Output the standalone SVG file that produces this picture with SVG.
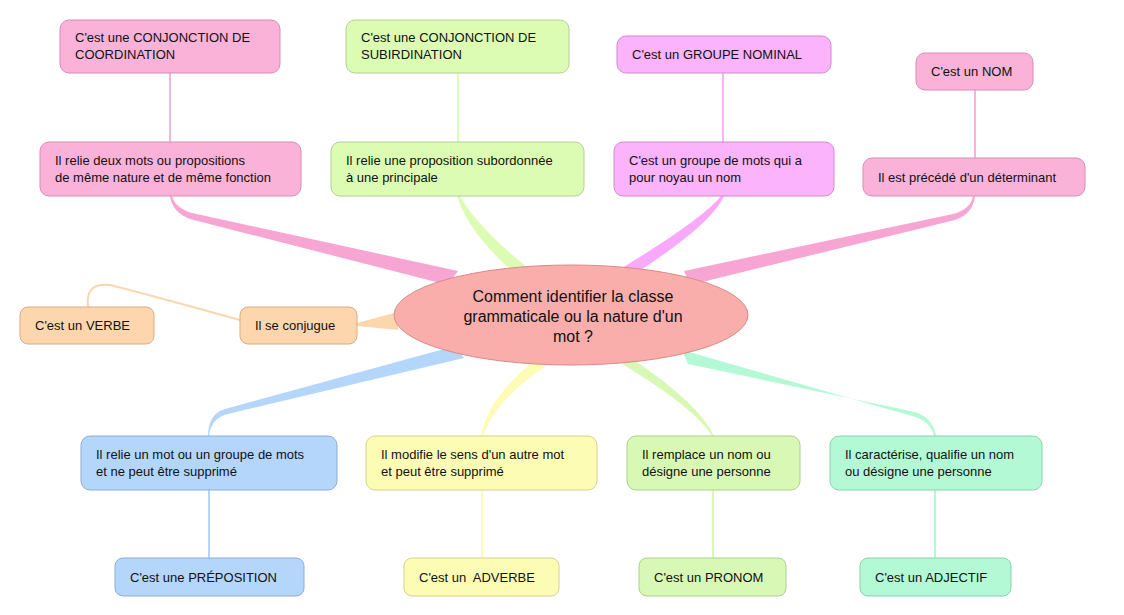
<svg xmlns="http://www.w3.org/2000/svg" width="1124" height="615" viewBox="0 0 1124 615">
<style>
.b{stroke-width:1}
.t{font-family:"Liberation Sans",Arial,sans-serif;font-size:13px;fill:#111}
.c{font-family:"Liberation Sans",Arial,sans-serif;font-size:16px;fill:#111}
.pk{fill:#fab2d9;stroke:#d98bb6}
.gr{fill:#dcfcb4;stroke:#b3d08f}
.vi{fill:#fbb3fb;stroke:#d08bd0}
.or{fill:#fdd6ae;stroke:#d9ad86}
.bl{fill:#b4d6fb;stroke:#8caed4}
.ye{fill:#fdfcb4;stroke:#d4d28c}
.lg{fill:#d8f9b6;stroke:#adcf8d}
.mi{fill:#b3f9d5;stroke:#89d1ad}
</style>
<rect width="1124" height="615" fill="#fff"/>
<g id="connectors" fill="none">
<path d="M458 271 L448 285 L190 219 Q172 212 170 196 L172 196 Q175 208 192 213 Z" fill="#f7a6d3"/>
<path d="M528 268 L514 273 Q468 232 457 196 L460 196 Q478 228 528 268 Z" fill="#dcfcb4"/>
<path d="M622 268 L636 273 Q712 224 724 196 L721 196 Q704 218 622 268 Z" fill="#f9a9f9"/>
<path d="M684 271 L690 285 L955 220 Q973 214 975 196 L973 196 Q971 209 953 214 Z" fill="#f7a6d3"/>
<path d="M398 312 L398 330 L357 326 L357 323 Z" fill="#fdd6ae"/>
<path d="M240 320 Q150 295 110 285 Q85 282 88 307" stroke="#fdd6ae" stroke-width="2"/>
<path d="M455 346 L464 358 L228 414 Q211 418 209 436 L208 436 Q208 414 225 409 Z" fill="#b4d6fb"/>
<path d="M533 362 L546 366 Q495 400 483 436 L481 436 Q488 398 533 362 Z" fill="#fdfcb4"/>
<path d="M622 364 L634 360 Q700 405 714 436 L712 436 Q695 408 622 364 Z" fill="#d8f9b6"/>
<path d="M682 350 L688 364 L915 412 Q933 418 936 436 L934 436 Q930 420 912 416 Z" fill="#b3f9d5"/>
<g stroke-width="2">
<line x1="170" y1="73" x2="170" y2="142" stroke="#fab2d9"/>
<line x1="458" y1="73" x2="458" y2="142" stroke="#dcfcb4"/>
<line x1="723" y1="73" x2="723" y2="142" stroke="#fbb3fb"/>
<line x1="975" y1="90" x2="975" y2="158" stroke="#fab2d9"/>
<line x1="209" y1="490" x2="209" y2="558" stroke="#b4d6fb"/>
<line x1="482" y1="490" x2="482" y2="558" stroke="#fdfcb4"/>
<line x1="713" y1="490" x2="713" y2="558" stroke="#d8f9b6"/>
<line x1="935" y1="490" x2="935" y2="558" stroke="#b3f9d5"/>
</g>
</g>
<g id="center"><ellipse cx="571" cy="315" rx="177" ry="50" fill="#f9aeab" stroke="#d88a88"/>
<text class="c" text-anchor="middle"><tspan x="573" y="302">Comment identifier la classe</tspan><tspan x="573" y="322">grammaticale ou la nature d'un</tspan><tspan x="573" y="342">mot ?</tspan></text></g>
<g id="n1"><rect class="pk" x="60" y="20" width="220" height="53" rx="9"/><text class="t"><tspan x="75" y="42">C'est une CONJONCTION DE</tspan><tspan x="75" y="59">COORDINATION</tspan></text></g>
<g id="n2"><rect class="gr" x="346" y="20" width="223" height="53" rx="9"/><text class="t"><tspan x="361" y="42">C'est une CONJONCTION DE</tspan><tspan x="361" y="59">SUBIRDINATION</tspan></text></g>
<g id="n3"><rect class="vi" x="617" y="36" width="214" height="37" rx="9"/><text class="t" x="632" y="59">C'est un GROUPE NOMINAL</text></g>
<g id="n4"><rect class="pk" x="916" y="53" width="117" height="37" rx="9"/><text class="t" x="931" y="76">C'est un NOM</text></g>
<g id="n5"><rect class="pk" x="40" y="142" width="261" height="54" rx="9"/><text class="t"><tspan x="55" y="165">Il relie deux mots ou propositions</tspan><tspan x="55" y="182">de même nature et de même fonction</tspan></text></g>
<g id="n6"><rect class="gr" x="331" y="142" width="253" height="54" rx="9"/><text class="t"><tspan x="346" y="165">Il relie une proposition subordonnée</tspan><tspan x="346" y="182">à une principale</tspan></text></g>
<g id="n7"><rect class="vi" x="614" y="142" width="220" height="54" rx="9"/><text class="t"><tspan x="629" y="165">C'est un groupe de mots qui a</tspan><tspan x="629" y="182">pour noyau un nom</tspan></text></g>
<g id="n8"><rect class="pk" x="863" y="158" width="222" height="38" rx="9"/><text class="t" x="878" y="182">Il est précédé d'un déterminant</text></g>
<g id="n9"><rect class="or" x="20" y="307" width="134" height="37" rx="8"/><text class="t" x="35" y="330">C'est un VERBE</text></g>
<g id="n10"><rect class="or" x="240" y="307" width="117" height="37" rx="8"/><text class="t" x="255" y="330">Il se conjugue</text></g>
<g id="n11"><rect class="bl" x="81" y="436" width="256" height="54" rx="9"/><text class="t"><tspan x="96" y="459">Il relie un mot ou un groupe de mots</tspan><tspan x="96" y="476">et ne peut être supprimé</tspan></text></g>
<g id="n12"><rect class="ye" x="366" y="436" width="231" height="54" rx="9"/><text class="t"><tspan x="381" y="459">Il modifie le sens d'un autre mot</tspan><tspan x="381" y="476">et peut être supprimé</tspan></text></g>
<g id="n13"><rect class="lg" x="627" y="436" width="173" height="54" rx="9"/><text class="t"><tspan x="642" y="459">Il remplace un nom ou</tspan><tspan x="642" y="476">désigne une personne</tspan></text></g>
<g id="n14"><rect class="mi" x="830" y="436" width="212" height="54" rx="9"/><text class="t"><tspan x="845" y="459">Il caractérise, qualifie un nom</tspan><tspan x="845" y="476">ou désigne une personne</tspan></text></g>
<g id="n15"><rect class="bl" x="115" y="558" width="189" height="38" rx="8"/><text class="t" x="130" y="582">C'est une PRÉPOSITION</text></g>
<g id="n16"><rect class="ye" x="404" y="558" width="155" height="38" rx="8"/><text class="t" x="419" y="582" xml:space="preserve">C'est un  ADVERBE</text></g>
<g id="n17"><rect class="lg" x="639" y="558" width="147" height="38" rx="8"/><text class="t" x="654" y="582">C'est un PRONOM</text></g>
<g id="n18"><rect class="mi" x="860" y="558" width="151" height="38" rx="8"/><text class="t" x="875" y="582">C'est un ADJECTIF</text></g>
</svg>
